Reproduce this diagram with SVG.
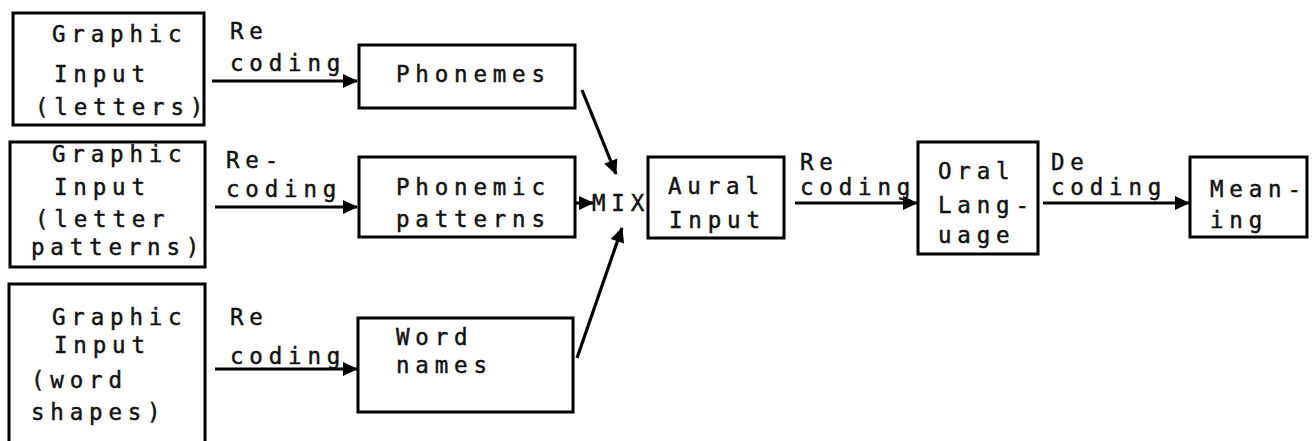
<svg xmlns="http://www.w3.org/2000/svg" width="1316" height="441" viewBox="0 0 1316 441">
  <style>
    .box { fill: none; stroke: #000; stroke-width: 3; }
    .t { font-family: "DejaVu Sans Mono", "Liberation Mono", monospace; font-size: 22.5px; letter-spacing: 5.8px; fill: #111; stroke: #111; stroke-width: 0.45px; }
    .lnk { fill: none; stroke: #000; stroke-width: 3.2; }
  </style>
  <defs>
    <marker id="head" markerUnits="userSpaceOnUse" markerWidth="17" markerHeight="17" viewBox="0 0 17 17" refX="15" refY="8.5" orient="auto">
      <path d="M1,1.5 L16,8.5 L1,15.5 Z" fill="#000"/>
    </marker>
  </defs>
  <rect width="1316" height="441" fill="#fff"/>

  <!-- left column: graphic inputs -->
  <g id="graphic-letters">
    <rect class="box" x="13" y="13" width="191" height="112"/>
    <text class="t" x="52" y="42">Graphic</text>
    <text class="t" x="54" y="82">Input</text>
    <text class="t" x="35" y="115">(letters)</text>
  </g>
  <g id="graphic-letter-patterns">
    <rect class="box" x="10" y="142" width="195" height="125"/>
    <text class="t" x="52" y="162">Graphic</text>
    <text class="t" x="54" y="195">Input</text>
    <text class="t" x="35" y="227">(letter</text>
    <text class="t" x="31" y="255">patterns)</text>
  </g>
  <g id="graphic-word-shapes">
    <path class="box" d="M9,441 V284 H205 V441"/>
    <text class="t" x="52" y="325">Graphic</text>
    <text class="t" x="54" y="353">Input</text>
    <text class="t" x="31" y="388">(word</text>
    <text class="t" x="31" y="420">shapes)</text>
  </g>

  <!-- recoded units -->
  <g id="phonemes">
    <rect class="box" x="359" y="45" width="216" height="63"/>
    <text class="t" x="396" y="82">Phonemes</text>
  </g>
  <g id="phonemic-patterns">
    <rect class="box" x="359" y="157" width="216" height="80"/>
    <text class="t" x="396" y="195">Phonemic</text>
    <text class="t" x="396" y="227">patterns</text>
  </g>
  <g id="word-names">
    <rect class="box" x="358" y="318" width="215" height="94"/>
    <text class="t" x="396" y="345">Word</text>
    <text class="t" x="396" y="373">names</text>
  </g>

  <g id="mix">
    <text class="t" x="592" y="211">MIX</text>
  </g>

  <g id="aural-input">
    <rect class="box" x="648" y="157" width="136" height="81"/>
    <text class="t" x="668" y="194">Aural</text>
    <text class="t" x="669" y="228">Input</text>
  </g>
  <g id="oral-language">
    <rect class="box" x="918" y="142" width="120" height="112"/>
    <text class="t" x="938" y="179">Oral</text>
    <text class="t" x="938" y="213">Lang-</text>
    <text class="t" x="938" y="243">uage</text>
  </g>
  <g id="meaning">
    <rect class="box" x="1190" y="157" width="117" height="80"/>
    <text class="t" x="1210" y="197">Mean-</text>
    <text class="t" x="1210" y="228">ing</text>
  </g>

  <!-- connectors and their labels -->
  <g id="connectors">
    <line class="lnk" x1="212" y1="81" x2="357" y2="81" marker-end="url(#head)"/>
    <line class="lnk" x1="215" y1="207" x2="357" y2="207" marker-end="url(#head)"/>
    <line class="lnk" x1="215" y1="369" x2="357" y2="369" marker-end="url(#head)"/>
    <line class="lnk" x1="575" y1="203" x2="593" y2="203" marker-end="url(#head)"/>
    <line class="lnk" x1="582" y1="90" x2="616" y2="174" marker-end="url(#head)"/>
    <line class="lnk" x1="577" y1="358" x2="622" y2="228" marker-end="url(#head)"/>
    <line class="lnk" x1="795" y1="203" x2="917" y2="203" marker-end="url(#head)"/>
    <line class="lnk" x1="1043" y1="203" x2="1189" y2="203" marker-end="url(#head)"/>

    <text class="t" x="230" y="39">Re</text>
    <text class="t" x="230" y="71">coding</text>
    <text class="t" x="226" y="168">Re-</text>
    <text class="t" x="226" y="197">coding</text>
    <text class="t" x="230" y="325">Re</text>
    <text class="t" x="230" y="364">coding</text>
    <text class="t" x="800" y="170">Re</text>
    <text class="t" x="800" y="195">coding</text>
    <text class="t" x="1051" y="170">De</text>
    <text class="t" x="1051" y="195">coding</text>
  </g>
</svg>
